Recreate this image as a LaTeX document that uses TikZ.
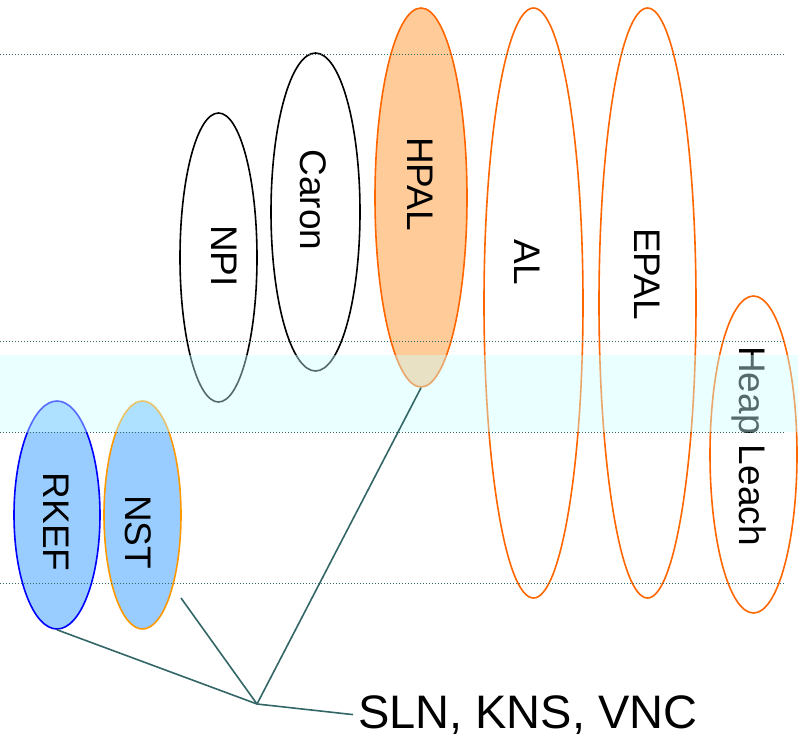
\documentclass[tikz,border=0pt]{standalone}
\usepackage{fontspec}
\setmainfont{Liberation Sans}
\usetikzlibrary{shapes.geometric}
\definecolor{linkc}{RGB}{51,102,102}
\definecolor{blueedge}{RGB}{0,0,255}
\definecolor{bluefill}{RGB}{153,204,255}
\definecolor{nstedge}{RGB}{255,153,0}
\definecolor{orangeedge}{RGB}{255,102,0}
\definecolor{peach}{RGB}{255,204,153}
\definecolor{bandc}{RGB}{204,255,255}
\tikzset{
  proc/.style={ellipse, draw, line width=1.6pt, inner sep=0pt, minimum width=#1},
  lbl/.style={rotate=-90, inner sep=0pt, font=\fontsize{37}{37}\selectfont},
  guide/.style={linkc, line width=1pt, dash pattern=on 1pt off 2pt},
  link/.style={linkc, line width=1.6pt},
}
\begin{document}
\begin{tikzpicture}[x=1pt,y=-1pt]
\useasboundingbox (0,0) rectangle (798,737);
% ellipses
\node[proc=86pt, minimum height=228pt, draw=blueedge, fill=bluefill] (rkef) at (57,515) {};
\node[proc=77pt, minimum height=228pt, draw=nstedge, fill=bluefill] (nst) at (142.5,515) {};
\node[proc=77pt, minimum height=289pt, draw=black] (npi) at (218.5,257.5) {};
\node[proc=89pt, minimum height=318pt, draw=black] (caron) at (315.5,212) {};
\node[proc=92pt, minimum height=379pt, draw=orangeedge, fill=peach] (hpal) at (421,197.5) {};
\node[proc=99pt, minimum height=590pt, draw=orangeedge] (al) at (533.5,303) {};
\node[proc=97pt, minimum height=590pt, draw=orangeedge] (epal) at (647.5,303) {};
\node[proc=87pt, minimum height=317pt, draw=orangeedge] (heap) at (753.5,454.5) {};
% labels
\node[lbl] (trkef) at (56,522) {RKEF};
\node[lbl] (tnst) at (138,532) {NST};
\node[lbl] (tnpi) at (224,256) {NPI};
\node[lbl] (tcaron) at (313,200) {Caron};
\node[lbl] (thpal) at (420,184) {HPAL};
\node[lbl] (tal) at (527,262) {AL};
\node[lbl] (tepal) at (647,274) {EPAL};
\node[lbl] (theap) at (749.5,446) {Heap Leach};
% band
\fill[bandc, opacity=0.42] (0,355) rectangle (798,432);
% guides
\draw[guide] (0,54) -- (785,54);
\draw[guide] (0,341) -- (785,341);
\draw[guide] (0,432) -- (785,432);
\draw[guide] (0,583) -- (785,583);
% connectors
\node[inner sep=0pt, outer sep=5pt, anchor=base west, font=\fontsize{47}{47}\selectfont] (sln) at (353,728) {SLN, KNS, VNC};
\coordinate (hub) at (257,704);
\coordinate (nstfree) at (181,598);
\draw[link] (rkef.south) -- (hub);
\draw[link] (nstfree) -- (hub);
\draw[link] (hpal.south) -- (hub);
\draw[link] (hub) -- (sln.west);
\end{tikzpicture}
\end{document}
